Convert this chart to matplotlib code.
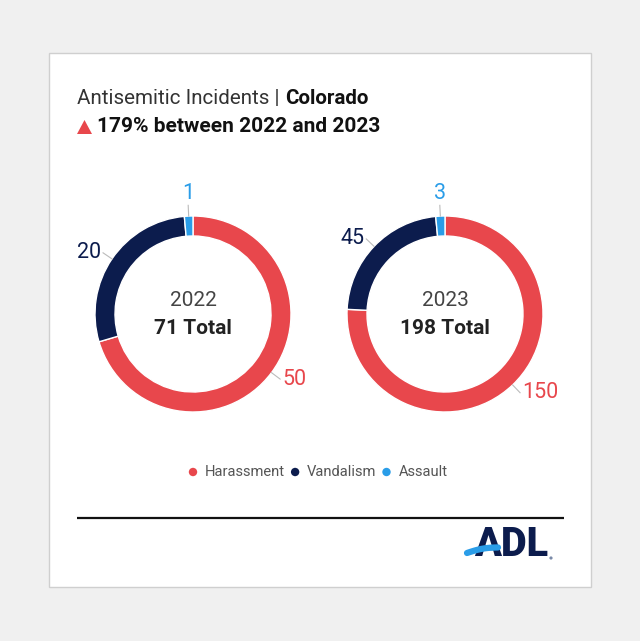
import matplotlib
matplotlib.use("Agg")
import matplotlib.pyplot as plt
from matplotlib.patches import Rectangle, Polygon, Circle
import numpy as np

# ---- data ----
categories = ["Harassment", "Vandalism", "Assault"]
years = ["2022", "2023"]
values_2022 = [50, 20, 1]
values_2023 = [150, 45, 3]
colors = ["#E8474C", "#0C1C4D", "#2A9DE8"]
title_regular = "Antisemitic Incidents | "
title_bold = "Colorado"
subtitle = "179% between 2022 and 2023"

plt.rcParams['font.family'] = ['Roboto', 'DejaVu Sans']

W, H = 640, 641
fig = plt.figure(figsize=(W / 100, H / 100), dpi=100, facecolor="#F0F0F0")
ax = fig.add_axes([0, 0, 1, 1])
ax.set_xlim(0, W)
ax.set_ylim(0, H)
ax.set_aspect("equal")
ax.axis("off")

def Y(y):  # image y -> data y
    return H - y

# card
ax.add_patch(Rectangle((49, Y(587)), 542, 534, facecolor="white",
                       edgecolor="#CFCFCF", lw=1.0, zorder=0))

# title
t1 = ax.text(77, Y(98), title_regular, fontsize=14.8, color="#333333",
             va="center", ha="left")
fig.canvas.draw()
r = fig.canvas.get_renderer()
bb = t1.get_window_extent(renderer=r)
ax.text(bb.x1, Y(98), title_bold, fontsize=14.8, color="#111111",
        fontweight="bold", va="center", ha="left")
ax.add_patch(Polygon([(77, Y(134)), (92, Y(134)), (84.5, Y(120))],
                     closed=True, facecolor="#E8474C", edgecolor="none"))
ax.text(97, Y(127), subtitle, fontsize=15, color="#111111",
        fontweight="bold", va="center", ha="left")

# donuts
centers = [(193, 314), (445, 314)]
R = 98
width = 20
for (cx, cy), year, vals in zip(centers, years, [values_2022, values_2023]):
    wedges, _ = ax.pie(vals, colors=colors, startangle=90, counterclock=False,
                       center=(cx, Y(cy)), radius=R,
                       wedgeprops=dict(width=width, edgecolor="white", linewidth=1.0),
                       frame=True)
    total = sum(vals)
    for w, v, c in zip(wedges, vals, colors):
        ang = np.deg2rad((w.theta1 + w.theta2) / 2)
        ca, sa = np.cos(ang), np.sin(ang)
        x0, y0 = cx + R * 1.0 * ca, Y(cy) + R * 1.0 * sa
        x1, y1 = cx + R * 1.11 * ca, Y(cy) + R * 1.11 * sa
        ax.plot([x0, x1], [y0, y1], color="#BBBBBB", lw=0.8, zorder=3)
        if abs(ca) < 0.25:
            ax.text(x1, y1 + 1, str(v), color=c, fontsize=15.5, ha="center",
                    va="bottom")
        else:
            ha = "left" if ca > 0 else "right"
            ax.text(x1 + (2 if ca > 0 else -2), y1, str(v), color=c,
                    fontsize=15.5, ha=ha, va="center")
    ax.text(cx, Y(cy - 13), year, fontsize=15, color="#444444",
            ha="center", va="center")
    ax.text(cx, Y(cy + 14), f"{total} Total", fontsize=15, color="#222222",
            fontweight="bold", ha="center", va="center")

ax.set_xlim(0, W)
ax.set_ylim(0, H)
ax.axis("off")

# legend
lx = 193
ly = Y(472)
for cat, c in zip(categories, colors):
    ax.add_patch(Circle((lx, ly), 4.2, facecolor=c, edgecolor="none"))
    t = ax.text(lx + 12, ly, cat, fontsize=10.6, color="#555555",
                va="center", ha="left")
    fig.canvas.draw()
    bb = t.get_window_extent(renderer=fig.canvas.get_renderer())
    lx = bb.x1 + 10

# rule
ax.plot([77, 564], [Y(518), Y(518)], color="#111111", lw=1.6, solid_capstyle="butt")

# ADL logo
ax.text(474, Y(545), "ADL", fontsize=28.5, fontweight="heavy", color="#0C1C4D",
        ha="left", va="center")
sx = np.linspace(467, 498, 30)
sy = Y(553) + (sx - 467) * 0.18 + 1.5 * np.sin((sx - 467) / 31 * np.pi)
ax.plot(sx, sy, color="#2A9DE8", lw=4.5, solid_capstyle="round", zorder=5)
ax.add_patch(Circle((551, Y(558)), 1.6, facecolor="#7A8AA8", edgecolor="none"))

fig.savefig("out.png", dpi=100, facecolor=fig.get_facecolor())
